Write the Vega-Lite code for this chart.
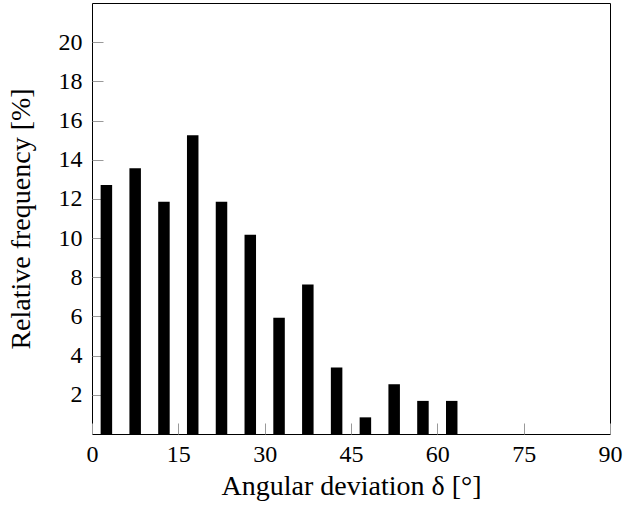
{
  "$schema": "https://vega.github.io/schema/vega-lite/v6.json",
  "width": 518,
  "height": 431,
  "autosize": "none",
  "padding": {"left": 92, "top": 3, "right": 15, "bottom": 72},
  "background": "white",
  "config": {
    "font": "'Liberation Serif', serif",
    "view": {"stroke": "black", "strokeWidth": 1},
    "axis": {
      "grid": false,
      "domain": false,
      "tickColor": "#999999",
      "tickWidth": 1,
      "tickSize": -11,
      "labelFont": "'Liberation Serif', serif",
      "labelFontSize": 24,
      "labelColor": "black",
      "titleFont": "'Liberation Serif', serif",
      "titleFontSize": 28,
      "titleFontWeight": "normal",
      "titleColor": "black"
    }
  },
  "data": {
    "values": [
      {"delta": 2.5, "pct": 12.71},
      {"delta": 7.5, "pct": 13.56},
      {"delta": 12.5, "pct": 11.86},
      {"delta": 17.5, "pct": 15.25},
      {"delta": 22.5, "pct": 11.86},
      {"delta": 27.5, "pct": 10.17},
      {"delta": 32.5, "pct": 5.93},
      {"delta": 37.5, "pct": 7.63},
      {"delta": 42.5, "pct": 3.39},
      {"delta": 47.5, "pct": 0.85},
      {"delta": 52.5, "pct": 2.54},
      {"delta": 57.5, "pct": 1.69},
      {"delta": 62.5, "pct": 1.69}
    ]
  },
  "mark": {"type": "bar", "color": "black", "width": 11.5},
  "encoding": {
    "x": {
      "field": "delta",
      "type": "quantitative",
      "scale": {"domain": [0, 90], "nice": false, "zero": false, "padding": 0},
      "axis": {
        "values": [0, 15, 30, 45, 60, 75, 90],
        "labelPadding": 19,
        "labelFlush": false,
        "title": "Angular deviation δ [°]",
        "titlePadding": 6
      }
    },
    "y": {
      "field": "pct",
      "type": "quantitative",
      "scale": {"domain": [0, 22], "nice": false, "padding": 0},
      "axis": {
        "values": [2, 4, 6, 8, 10, 12, 14, 16, 18, 20],
        "labelPadding": 21,
        "title": "Relative frequency [%]",
        "titlePadding": 23
      }
    }
  }
}
